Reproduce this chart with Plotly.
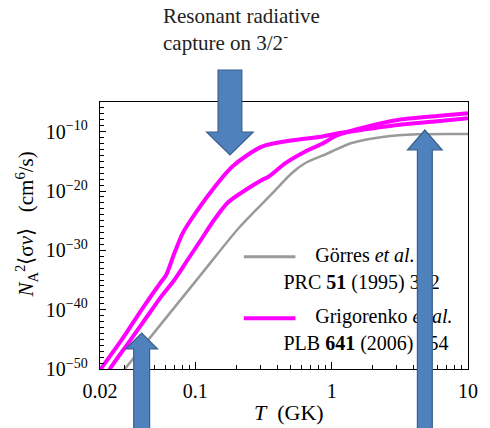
import plotly.graph_objects as go

FONT = "Liberation Serif, Times New Roman, serif"

# ---------------- data ----------------
# Temperature T in GK, rate given as log10 of N_A^2 <sigma v> (cm^6/s)
gorres_T = [0.0270, 0.0304, 0.1067, 0.2085, 0.364, 0.509, 0.637, 0.941, 1.384, 2.432, 4.25, 10.0]
gorres_log10_rate = [-51.52, -50.0, -34.48, -26.23, -20.50, -17.01, -15.33, -13.64, -11.96, -10.85, -10.44, -10.39]

grig_upper_T = [0.0184, 0.0200, 0.0288, 0.0402, 0.0562, 0.0611, 0.0702, 0.0807, 0.0927, 0.1333,
                0.1862, 0.308, 0.539, 0.837, 1.113, 1.839, 3.04, 5.94, 10.0]
grig_upper_log10_rate = [-51.5, -50.2, -45.11, -40.06, -35.29, -34.16, -30.50, -27.13, -24.89, -19.83,
                         -15.90, -12.53, -11.40, -10.85, -10.27, -9.55, -8.87, -8.26, -7.75]

grig_lower_T = [0.0217, 0.02365, 0.0321, 0.0425, 0.0562, 0.0702, 0.0877, 0.1098, 0.1372, 0.1740,
                0.2333, 0.308, 0.3445, 0.4557, 0.637, 0.837, 1.113, 1.839, 3.04, 5.94, 10.0]
grig_lower_log10_rate = [-51.85, -50.0, -45.67, -41.74, -37.81, -35.0, -31.63, -28.26, -24.89, -21.9,
                         -19.83, -18.14, -17.59, -15.33, -13.37, -12.13, -10.56, -9.13, -8.03, -7.36, -6.90]

x_tick_values = [0.02, 0.1, 1, 10]
x_tick_labels = ["0.02", "0.1", "1", "10"]
x_minor_values = [0.03, 0.04, 0.05, 0.06, 0.07, 0.08, 0.09,
                  0.2, 0.3, 0.4, 0.5, 0.6, 0.7, 0.8, 0.9,
                  2, 3, 4, 5, 6, 7, 8, 9]
y_tick_exponents = [-50, -40, -30, -20, -10]
y_minor_exponents = [e for e in range(-50, -4) if e % 10 != 0]

legend_gorres = ["Görres <i>et al.</i>", "PRC <b>51</b> (1995) 392"]
legend_grig = ["Grigorenko <i>et al.</i>", "PLB <b>641</b> (2006) 254"]

# ---------------- geometry helpers ----------------
W, H = 490, 428
ML, MR, MT, MB = 100, 19, 102, 59
PW = W - ML - MR
PH = H - MT - MB


def paper(x, y):
    return (x - ML) / PW, (H - MB - y) / PH


def arrow_path(cx, tail_y, base_y, tip_y, shaft_hw, head_hw):
    pts = [(cx - shaft_hw, tail_y), (cx + shaft_hw, tail_y), (cx + shaft_hw, base_y),
           (cx + head_hw, base_y), (cx, tip_y), (cx - head_hw, base_y), (cx - shaft_hw, base_y)]
    conv = [paper(x, y) for x, y in pts]
    return "M " + " L ".join(f"{a:.4f},{b:.4f}" for a, b in conv) + " Z"


pow10 = lambda lst: [10.0 ** v for v in lst]

fig = go.Figure()

fig.add_trace(go.Scatter(x=gorres_T, y=pow10(gorres_log10_rate), mode="lines",
                         line=dict(color="#9a9a9a", width=2.5, shape="spline", smoothing=0.8),
                         showlegend=False, hoverinfo="skip"))
fig.add_trace(go.Scatter(x=grig_upper_T, y=pow10(grig_upper_log10_rate), mode="lines",
                         line=dict(color="#ff00ff", width=4, shape="spline", smoothing=0.8),
                         showlegend=False, hoverinfo="skip"))
fig.add_trace(go.Scatter(x=grig_lower_T, y=pow10(grig_lower_log10_rate), mode="lines",
                         line=dict(color="#ff00ff", width=4, shape="spline", smoothing=0.8),
                         showlegend=False, hoverinfo="skip"))

# ---- hand-made legend on an overlay axis (so the arrows can cover it) ----
for (ly, col, lw, texts) in [(256.7, "#9a9a9a", 3, legend_gorres), (318.3, "#ff00ff", 4, legend_grig)]:
    x0, yy = paper(245, ly)
    x1, _ = paper(297, ly)
    fig.add_trace(go.Scatter(x=[x0, x1], y=[yy, yy], mode="lines", xaxis="x2", yaxis="y2",
                             line=dict(color=col, width=lw), showlegend=False, hoverinfo="skip"))
    tx1, ty1 = paper(317, ly)
    tx2, ty2 = paper(285, ly + 27)
    fig.add_trace(go.Scatter(x=[tx1, tx2], y=[ty1, ty2], mode="text", text=texts,
                             textposition="middle right", xaxis="x2", yaxis="y2",
                             textfont=dict(family=FONT, size=20, color="black"),
                             showlegend=False, hoverinfo="skip", cliponaxis=False))

shapes = []
for spec in [(231, 70, 132, 155, 12, 23.5), (142, 440, 349, 333, 8, 16), (427.5, 440, 150, 130, 7.5, 17.5)]:
    shapes.append(dict(type="path", path=arrow_path(*spec), xref="paper", yref="paper",
                       fillcolor="#4F81BD", line=dict(color="#3A5F8B", width=1.2), layer="above"))

annotations = []
ax, ay = paper(161, 16)
annotations.append(dict(x=ax, y=ay, xref="paper", yref="paper", text="Resonant radiative",
                        showarrow=False, xanchor="left", yanchor="middle",
                        font=dict(family=FONT, size=21, color="#222")))
ax, ay = paper(161, 41)
annotations.append(dict(x=ax, y=ay, xref="paper", yref="paper", text="capture on 3/2<sup>-</sup>",
                        showarrow=False, xanchor="left", yanchor="middle",
                        font=dict(family=FONT, size=21, color="#222")))
ax, ay = paper(291, 412)
annotations.append(dict(x=ax, y=ay, xref="paper", yref="paper", text="<i>T</i>&nbsp; (GK)",
                        showarrow=False, xanchor="center", yanchor="middle",
                        font=dict(family=FONT, size=22, color="black")))
ax, ay = paper(25, 225)
annotations.append(dict(x=ax, y=ay, xref="paper", yref="paper", textangle=-90,
                        text="<i>N</i><sub>A</sub><sup>2</sup>⟨σ<i>v</i>⟩&nbsp;&nbsp; (cm<sup>6</sup>/s)",
                        showarrow=False, xanchor="center", yanchor="middle",
                        font=dict(family=FONT, size=21, color="black")))

fig.update_layout(
    width=W, height=H,
    margin=dict(l=ML, r=MR, t=MT, b=MB),
    paper_bgcolor="white", plot_bgcolor="white",
    font=dict(family=FONT, size=20, color="black"),
    shapes=shapes, annotations=annotations,
    xaxis=dict(type="log", range=[-1.69897, 1.0], showgrid=False, zeroline=False,
               showline=True, linecolor="black", linewidth=1.3, mirror=True,
               ticks="inside", ticklen=7, tickwidth=1, tickcolor="black",
               tickvals=x_tick_values, ticktext=x_tick_labels, ticklabelstandoff=4,
               tickfont=dict(family=FONT, size=20, color="black"),
               minor=dict(ticks="inside", ticklen=4, tickwidth=1, tickcolor="black",
                          tickvals=x_minor_values, showgrid=False)),
    yaxis=dict(type="log", range=[-50, -5], showgrid=False, zeroline=False,
               showline=True, linecolor="black", linewidth=1.3, mirror=True,
               ticks="inside", ticklen=6, tickwidth=1, tickcolor="black",
               tickvals=[10.0 ** e for e in y_tick_exponents],
               ticktext=[f"10<sup>\u2212{abs(e)}</sup>" for e in y_tick_exponents],
               ticklabelstandoff=7,
               tickfont=dict(family=FONT, size=20, color="black"),
               minor=dict(ticks="inside", ticklen=3.5, tickwidth=1, tickcolor="black",
                          tickvals=[10.0 ** e for e in y_minor_exponents], showgrid=False)),
    xaxis2=dict(overlaying="x", range=[0, 1], visible=False, fixedrange=True),
    yaxis2=dict(overlaying="y", range=[0, 1], visible=False, fixedrange=True),
)

fig.write_html("out.html", config={"displayModeBar": False, "staticPlot": True},
               post_script="document.body.style.margin='0';document.body.style.overflow='hidden';")
